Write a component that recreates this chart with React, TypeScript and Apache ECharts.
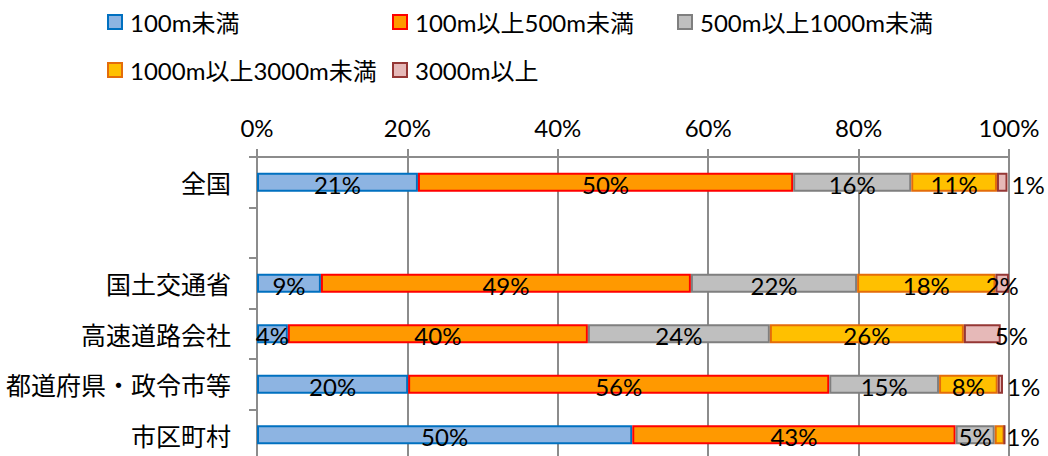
import React, { useEffect, useRef } from "react";
import * as echarts from "echarts";

const categories = ["全国", "", "国土交通省", "高速道路会社", "都道府県・政令市等", "市区町村"];
const seriesNames = ["100m未満", "100m以上500m未満", "500m以上1000m未満", "1000m以上3000m未満", "3000m以上"];
const under100 = [21.4, null, 8.5, 4.1, 20.1, 49.9];
const from100to500 = [49.9, null, 49.2, 39.9, 56.0, 43.0];
const from500to1000 = [15.7, null, 22.1, 24.2, 14.6, 5.2];
const from1000to3000 = [11.4, null, 18.4, 25.8, 7.8, 1.3];
const over3000 = [1.4, null, 1.8, 4.9, 0.7, 0];
const xTicks = [0, 20, 40, 60, 80, 100];

const fills = ["#8DB4E2", "#FF9900", "#BFBFBF", "#FFC000", "#E6B9B8"];
const borders = ["#0070C0", "#FF0000", "#7F7F7F", "#E46C0A", "#953735"];

const FONT = "Lato, 'Noto Sans CJK JP', sans-serif";

export default function App() {
  const ref = useRef<HTMLDivElement>(null);
  useEffect(() => {
    if (!ref.current) return;
    const chart = echarts.init(ref.current, null, { renderer: "svg" });
    const values = [under100, from100to500, from500to1000, from1000to3000, over3000];

    // label placement overrides for tiny segments (series index -> data index -> distance)
    const outside: Record<number, Record<number, number>> = {
      3: { 5: 2 },
      4: { 0: 4, 3: -6, 4: 4 },
    };

    const series = values.map((arr, si) => ({
      name: seriesNames[si],
      type: "bar",
      stack: "total",
      barWidth: 19,
      itemStyle: { color: fills[si], borderColor: borders[si], borderWidth: 2 },
      label: {
        show: true,
        position: "inside",
        color: "#000",
        fontSize: 24,
        fontFamily: FONT,
        offset: [0, 2],
        formatter: (p: any) => Math.round(p.value) + "%",
      },
      data: arr.map((v, di) => {
        if (v === null) return { value: null, label: { show: false } };
        if (v === 0) return { value: v, label: { show: false } };
        const o = outside[si] && outside[si][di];
        if (o !== undefined) {
          return { value: v, label: { position: "right", distance: o } };
        }
        return { value: v };
      }),
    }));

    const legendPos = [
      [107, 10],
      [392, 10],
      [677, 10],
      [107, 58],
      [392, 58],
    ];

    chart.setOption({
      animation: false,
      textStyle: { fontFamily: FONT },
      legend: seriesNames.map((n, i) => ({
        data: [n],
        left: legendPos[i][0],
        top: legendPos[i][1],
        padding: 0,
        itemWidth: 14,
        itemHeight: 14,
        itemGap: 0,
        icon: "rect",
        selectedMode: false,
        textStyle: { fontSize: 24, fontFamily: FONT, color: "#000", padding: [0, 0, 0, 3] },
      })),
      grid: { left: 257, right: 39, top: 157, height: 303 },
      xAxis: {
        type: "value",
        position: "top",
        min: xTicks[0],
        max: xTicks[xTicks.length - 1],
        interval: 20,
        axisLine: { show: true, lineStyle: { color: "#8C8C8C", width: 2 } },
        axisTick: { show: true, length: 8, lineStyle: { color: "#8C8C8C", width: 2 } },
        splitLine: { show: true, lineStyle: { color: "#8C8C8C", width: 2 } },
        axisLabel: {
          formatter: "{value}%",
          fontSize: 24,
          color: "#000",
          fontFamily: FONT,
          margin: 18,
        },
      },
      yAxis: {
        type: "category",
        inverse: true,
        data: categories,
        axisLine: { show: true, lineStyle: { color: "#8C8C8C", width: 2 } },
        axisTick: { show: true, length: 8, lineStyle: { color: "#8C8C8C", width: 2 } },
        axisLabel: {
          fontSize: 25,
          color: "#000",
          fontFamily: "'Noto Sans CJK JP', sans-serif",
          margin: 26,
        },
      },
      series,
    });
    return () => chart.dispose();
  }, []);

  return (
    <div style={{ position: "fixed", left: 0, top: 0, width: 1048, height: 456, overflow: "hidden", background: "#fff" }}>
      <div ref={ref} style={{ width: 1048, height: 480 }} />
    </div>
  );
}
